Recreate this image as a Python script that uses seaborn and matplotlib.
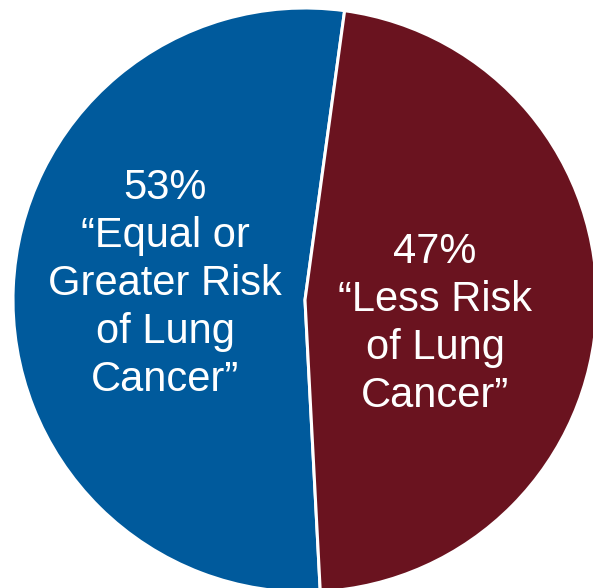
import matplotlib
matplotlib.use("Agg")
import matplotlib.pyplot as plt
import seaborn as sns

# perceived lung cancer risk of e-cigarettes vs cigarettes
categories = ["\u201cEqual or\nGreater Risk\nof Lung\nCancer\u201d",
              "\u201cLess Risk\nof Lung\nCancer\u201d"]
shares = [53, 47]
colors = ["#005A9C", "#6A131F"]

sns.set_style("white")
plt.rcParams["font.family"] = ["Liberation Sans", "DejaVu Sans"]

fig = plt.figure(figsize=(5.93, 5.88), dpi=100)
ax = fig.add_axes([0, 0, 1, 1])

wedges, _ = ax.pie(shares, colors=colors, startangle=82.2, counterclock=True,
                   radius=1.0,
                   wedgeprops={"edgecolor": "white", "linewidth": 2.2})

label_pos = [(-0.479, 0.055), (0.445, -0.082)]
for (x, y), cat, val in zip(label_pos, categories, shares):
    ax.text(x, y, f"{val}%\n{cat}", ha="center", va="center",
            color="white", fontsize=30, linespacing=1.26)

ax.set_xlim(-305 / 292, 288 / 292)
ax.set_ylim(-288 / 292, 300 / 292)
ax.set_aspect("auto")
ax.axis("off")

fig.savefig("out.png", dpi=100)
